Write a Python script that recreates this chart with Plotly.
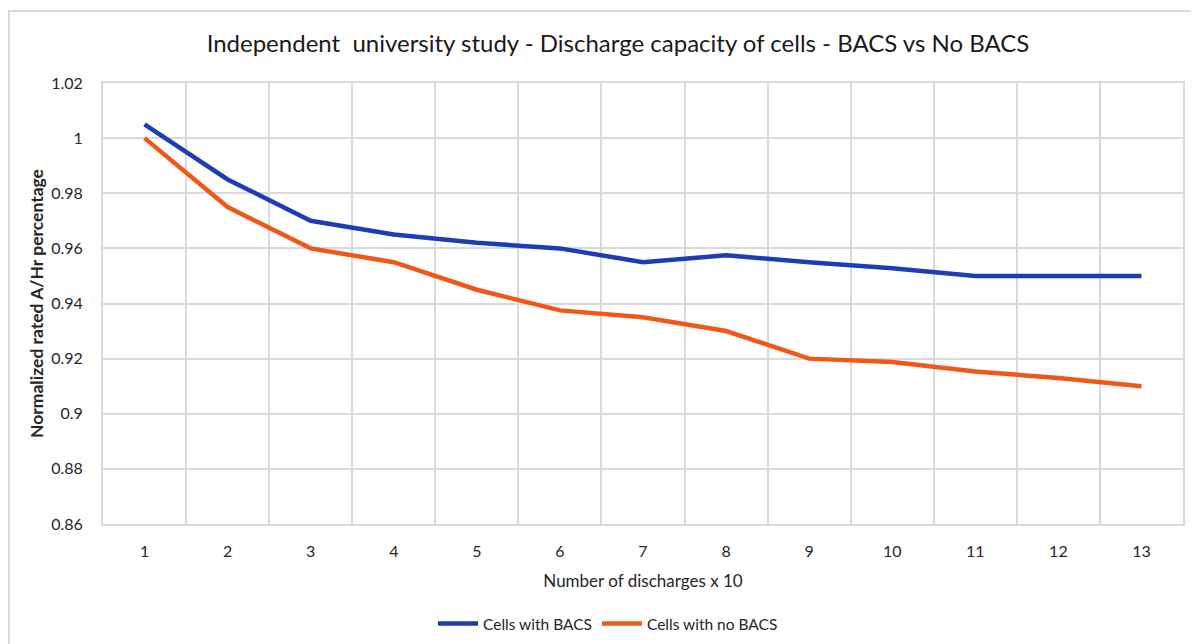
import plotly.graph_objects as go

discharges = list(range(1, 14))
tick_labels = [str(i) for i in discharges]
with_bacs = [1.005, 0.985, 0.970, 0.965, 0.962, 0.960, 0.955, 0.9575, 0.955, 0.9528, 0.950, 0.950, 0.950]
no_bacs = [1.000, 0.975, 0.960, 0.955, 0.945, 0.9375, 0.935, 0.930, 0.920, 0.9188, 0.9153, 0.913, 0.910]
y_ticks = [0.86, 0.88, 0.90, 0.92, 0.94, 0.96, 0.98, 1.00, 1.02]
y_tick_text = ["0.86", "0.88", "0.9", "0.92", "0.94", "0.96", "0.98", "1", "1.02"]

FONT = "Lato"
GRID = "#d9d9d9"
OFF = 8  # default page body margin
W, H = 1199 - OFF, 644 - OFF
# plot area in page pixels: x 103..1183, y 83..524
L, T = 103 - OFF, 83 - OFF
R = W - (1183 - OFF)
B = H - (524 - OFF)
pw, ph = W - L - R, H - T - B


def px(xp):  # page x -> paper x
    return (xp - OFF - L) / pw


def py(yp):  # page y -> paper y
    return (T + ph - (yp - OFF)) / ph


fig = go.Figure()
fig.add_trace(go.Scatter(x=discharges, y=with_bacs, mode="lines", name="Cells with BACS",
                         line=dict(color="#1f3db3", width=4.5)))
fig.add_trace(go.Scatter(x=discharges, y=no_bacs, mode="lines", name="Cells with no BACS",
                         line=dict(color="#f0581a", width=4.5)))

fig.update_layout(
    width=W, height=H,
    margin=dict(l=L, r=R, t=T, b=B, autoexpand=False),
    paper_bgcolor="white", plot_bgcolor="white",
    font=dict(family=FONT, color="#262626", size=16),
    title=dict(text="Independent&nbsp; university study - Discharge capacity of cells - BACS vs No BACS",
               x=(618 - OFF) / W, xanchor="center", xref="container",
               y=1 - (44 - OFF) / H, yanchor="middle", yref="container", automargin=False,
               font=dict(size=24, color="#1a1a1a", family=FONT)),
    showlegend=True,
    legend=dict(orientation="h", x=px(608), xanchor="center",
                y=py(624), yanchor="middle",
                font=dict(size=15.5, color="#262626", family=FONT),
                itemwidth=40, tracegroupgap=0),
    xaxis=dict(range=[0.5, 13.5], tickmode="array", tickvals=discharges, ticktext=tick_labels,
               showgrid=False, zeroline=False, showline=True, mirror=True,
               linecolor=GRID, linewidth=2, ticks="",
               ticklabelstandoff=12, automargin=False,
               tickfont=dict(size=16, color="#262626"),
               title=dict(text="Number of discharges x 10", standoff=16,
                          font=dict(size=17, color="#262626")),
               minor=dict(tickvals=[i + 0.5 for i in range(0, 14)], showgrid=True,
                          gridcolor=GRID, gridwidth=2, ticks=""),
               fixedrange=True),
    yaxis=dict(range=[0.86, 1.02], tickmode="array", tickvals=y_ticks, ticktext=y_tick_text,
               showgrid=True, gridcolor=GRID, gridwidth=2, zeroline=False,
               showline=True, mirror=True, linecolor=GRID, linewidth=2,
               ticks="", ticklabelstandoff=15, automargin=False,
               tickfont=dict(size=16, color="#262626"),
               title=dict(text="<b>Normalized rated A/Hr percentage</b>", standoff=3,
                          font=dict(size=17.5, color="#262626")),
               fixedrange=True),
)

# outer chart border
fig.add_shape(type="rect", xref="paper", yref="paper",
              x0=px(9), x1=px(1215),
              y0=py(660), y1=py(11),
              line=dict(color=GRID, width=2), fillcolor="rgba(0,0,0,0)", layer="below")

fig.write_html("out.html")
